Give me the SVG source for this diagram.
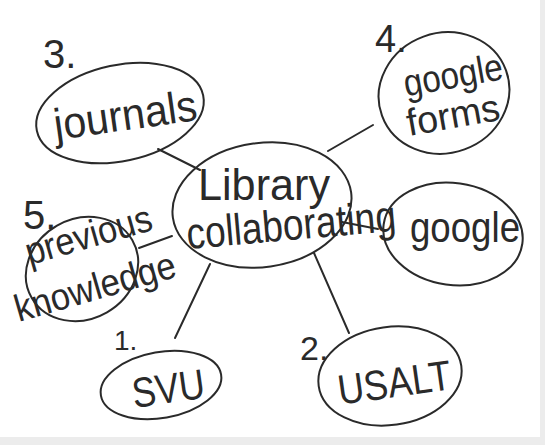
<svg xmlns="http://www.w3.org/2000/svg" width="545" height="445" viewBox="0 0 545 445">
<style>
.n{fill:none;stroke:#2a2a2a;stroke-width:2;stroke-linecap:round}
.t{font-family:"Liberation Sans","DejaVu Sans",sans-serif;fill:#2a2a2a;font-weight:normal}
</style>
<rect x="0" y="0" width="545" height="445" fill="#ececec"/>
<rect x="0" y="0" width="540" height="437" fill="#ffffff"/>
<g id="connectors">
<line class="n" x1="158" y1="149" x2="200" y2="170"/>
<line class="n" x1="328" y1="151" x2="373" y2="125"/>
<line class="n" x1="342" y1="222" x2="378" y2="229"/>
<line class="n" x1="139" y1="248" x2="172" y2="236"/>
<line class="n" x1="210" y1="264" x2="175" y2="338"/>
<line class="n" x1="314" y1="253" x2="349" y2="333"/>
</g>
<g id="center">
<ellipse class="n" cx="262" cy="205" rx="90" ry="62" transform="rotate(-8 262 205)"/>
<text class="t" x="198" y="200" font-size="44" textLength="132" lengthAdjust="spacingAndGlyphs">Library</text>
<text class="t" x="186" y="240" font-size="44" textLength="210" lengthAdjust="spacingAndGlyphs" transform="rotate(-5 290 225)">collaborating</text>
</g>
<g id="journals">
<ellipse class="n" cx="120" cy="113" rx="85" ry="48" transform="rotate(-12 120 113)"/>
<text class="t" x="43" y="68" font-size="40">3.</text>
<text class="t" x="54" y="130" font-size="44" textLength="144" lengthAdjust="spacingAndGlyphs" transform="rotate(-8 126 120)">journals</text>
</g>
<g id="googleforms">
<ellipse class="n" cx="444" cy="93" rx="66" ry="60" transform="rotate(-20 444 93)"/>
<text class="t" x="375" y="52" font-size="38">4.</text>
<text class="t" x="403" y="88" font-size="38" textLength="100" lengthAdjust="spacingAndGlyphs" transform="rotate(-10 453 75)">google</text>
<text class="t" x="406" y="128" font-size="38" textLength="94" lengthAdjust="spacingAndGlyphs" transform="rotate(-10 453 115)">forms</text>
</g>
<g id="google">
<ellipse class="n" cx="453" cy="234" rx="70" ry="51" transform="rotate(8 453 234)"/>
<text class="t" x="410" y="242" font-size="42" textLength="110" lengthAdjust="spacingAndGlyphs">google</text>
</g>
<g id="knowledge">
<ellipse class="n" cx="82" cy="269" rx="58" ry="50" transform="rotate(-30 82 269)"/>
<text class="t" x="23" y="229" font-size="40">5.</text>
<text class="t" x="22" y="248" font-size="38" textLength="130" lengthAdjust="spacingAndGlyphs" transform="rotate(-16 87 230)">previous</text>
<text class="t" x="10" y="300" font-size="38" textLength="166" lengthAdjust="spacingAndGlyphs" transform="rotate(-16 93 280)">knowledge</text>
</g>
<g id="svu">
<ellipse class="n" cx="161" cy="385" rx="61" ry="33" transform="rotate(-10 161 385)"/>
<text class="t" x="114" y="350" font-size="28">1.</text>
<text class="t" x="132" y="403" font-size="42" textLength="73" lengthAdjust="spacingAndGlyphs" transform="rotate(-8 168 390)">SVU</text>
</g>
<g id="usalt">
<ellipse class="n" cx="390" cy="376" rx="72" ry="49" transform="rotate(-8 390 376)"/>
<text class="t" x="300" y="360" font-size="34">2.</text>
<text class="t" x="337" y="397" font-size="42" textLength="114" lengthAdjust="spacingAndGlyphs" transform="rotate(-8 394 380)">USALT</text>
</g>
</svg>
